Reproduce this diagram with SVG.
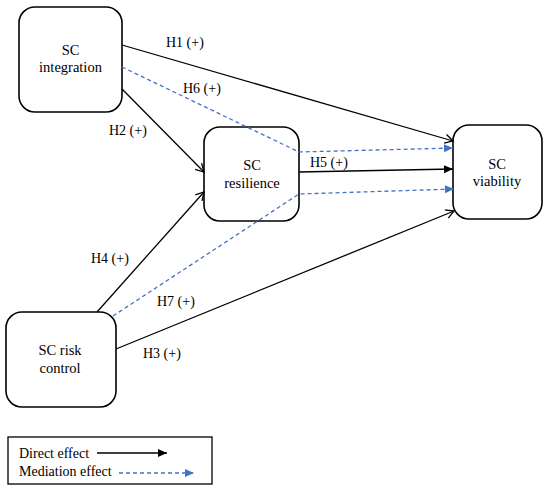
<svg xmlns="http://www.w3.org/2000/svg" width="550" height="491" viewBox="0 0 550 491">
<defs>
<marker id="open" markerUnits="userSpaceOnUse" markerWidth="12" markerHeight="12" refX="10" refY="6" orient="auto">
<path d="M2,1.5 L10,6 L2,10.5" fill="none" stroke="#000" stroke-width="1.3"/>
</marker>
<marker id="fillb" markerUnits="userSpaceOnUse" markerWidth="12" markerHeight="12" refX="10" refY="6" orient="auto">
<path d="M1,2 L10,6 L1,10 Z" fill="#000"/>
</marker>
<marker id="fillbl" markerUnits="userSpaceOnUse" markerWidth="12" markerHeight="12" refX="10" refY="6" orient="auto">
<path d="M1,2 L10,6 L1,10 Z" fill="#4472C4"/>
</marker>
</defs>
<style>
.box{fill:#fff;stroke:#000;stroke-width:1.6}
.t{font-family:"Liberation Serif","Times New Roman",serif;font-size:14.5px;fill:#000;text-anchor:middle}
.l{font-family:"Liberation Serif","Times New Roman",serif;font-size:14px;fill:#000}
.d{fill:none;stroke:#000;stroke-width:1.3}
.m{fill:none;stroke:#4472C4;stroke-width:1.3;stroke-dasharray:4 3}
</style>
<rect width="550" height="491" fill="#fff"/>
<g id="integration">
<rect class="box" x="19" y="7" width="103" height="105" rx="16"/>
<text class="t" x="70.5" y="55">SC</text>
<text class="t" x="70.5" y="72">integration</text>
</g>
<g id="resilience">
<rect class="box" x="204" y="127" width="95" height="94" rx="16"/>
<text class="t" x="252" y="170">SC</text>
<text class="t" x="252" y="188">resilience</text>
</g>
<g id="viability">
<rect class="box" x="453" y="125" width="89" height="94" rx="16"/>
<text class="t" x="497" y="169">SC</text>
<text class="t" x="497" y="186">viability</text>
</g>
<g id="riskcontrol">
<rect class="box" x="6" y="312" width="110" height="95" rx="16"/>
<text class="t" x="60" y="355">SC risk</text>
<text class="t" x="60" y="373">control</text>
</g>
<g id="connectors">
<line class="d" x1="122" y1="45" x2="453" y2="141" marker-end="url(#open)"/>
<polyline class="m" points="122,67 299,152 453,148" marker-end="url(#fillbl)"/>
<line class="d" x1="122" y1="89" x2="204" y2="172" marker-end="url(#open)"/>
<line class="d" x1="299" y1="172" x2="453" y2="169" marker-end="url(#fillb)"/>
<polyline class="m" points="113,316 299,194 454,189" marker-end="url(#fillbl)"/>
<line class="d" x1="97" y1="312" x2="204" y2="192" marker-end="url(#open)"/>
<line class="d" x1="116" y1="349" x2="454" y2="211" marker-end="url(#open)"/>
<text class="l" x="166" y="47">H1 (+)</text>
<text class="l" x="183" y="93">H6 (+)</text>
<text class="l" x="109" y="135">H2 (+)</text>
<text class="l" x="310" y="167">H5 (+)</text>
<text class="l" x="91" y="263">H4 (+)</text>
<text class="l" x="157" y="306">H7 (+)</text>
<text class="l" x="143" y="358">H3 (+)</text>
</g>
<g id="legend">
<rect x="8" y="437" width="204" height="47" fill="#fff" stroke="#000" stroke-width="1.3"/>
<text class="l" x="19" y="458">Direct effect</text>
<line class="d" x1="97" y1="453" x2="167" y2="453" marker-end="url(#fillb)"/>
<text class="l" x="19" y="476">Mediation effect</text>
<line class="m" x1="119" y1="473" x2="194" y2="473" marker-end="url(#fillbl)"/>
</g>
</svg>
